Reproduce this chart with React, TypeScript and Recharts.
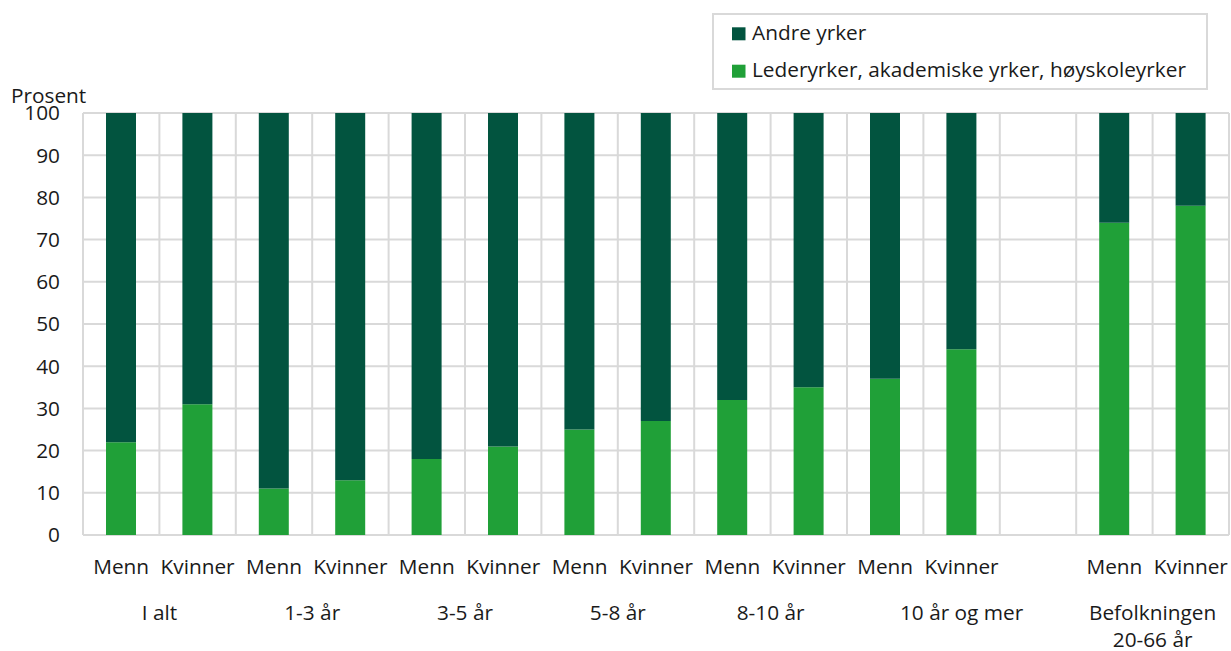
import React from 'react';
import { BarChart, Bar, XAxis, YAxis, CartesianGrid, Legend } from 'recharts';

const categories = ['Menn', 'Kvinner', 'Menn', 'Kvinner', 'Menn', 'Kvinner', 'Menn', 'Kvinner', 'Menn', 'Kvinner', 'Menn', 'Kvinner', '', 'Menn', 'Kvinner'];
const groupLabels = [['I alt'], ['1-3 år'], ['3-5 år'], ['5-8 år'], ['8-10 år'], ['10 år og mer'], ['Befolkningen', '20-66 år']];
const groupSpans = [2, 2, 2, 2, 2, 3, 2];
const lederyrker = [22, 31, 11, 13, 18, 21, 25, 27, 32, 35, 37, 44, null, 74, 78];
const andreYrker = [78, 69, 89, 87, 82, 79, 75, 73, 68, 65, 63, 56, null, 26, 22];
const yTicks = [0, 10, 20, 30, 40, 50, 60, 70, 80, 90, 100];

const seriesNames = { leder: 'Lederyrker, akademiske yrker, høyskoleyrker', andre: 'Andre yrker' };
const legendOrder = ['andre', 'leder'];
const COLOR_LIGHT = '#20a038';
const COLOR_DARK = '#02543f';
const GRID = '#d9d9d9';
const TEXT = '#1a1a1a';
const FONT = "'Open Sans', 'Noto Sans', sans-serif";
const FS = 20.8;

const data = categories.map((sex, i) => ({ sex, leder: lederyrker[i], andre: andreYrker[i] }));

const groupStarts: number[] = [];
{
  let acc = 0;
  for (const s of groupSpans) {
    groupStarts.push(acc);
    acc += s;
  }
}

const XTick = (props: any) => {
  const { x, y, payload, index, width, visibleTicksCount } = props;
  const i = typeof index === 'number' ? index : payload.index;
  const band = payload && payload.offset ? payload.offset * 2 : width / visibleTicksCount;
  const g = groupStarts.indexOf(i);
  return (
    <g>
      <text x={x} y={y + 39} textAnchor="middle" fill={TEXT} fontSize={FS} fontFamily={FONT}>
        {payload.value}
      </text>
      {g >= 0 &&
        groupLabels[g].map((line, k) => (
          <text
            key={k}
            x={x + ((groupSpans[g] - 1) * band) / 2}
            y={y + 85 + k * 26.5}
            textAnchor="middle"
            fill={TEXT}
            fontSize={FS}
            fontFamily={FONT}
          >
            {line}
          </text>
        ))}
    </g>
  );
};

const LegendBox = (props: any) => {
  const items = [...(props.payload || [])].sort(
    (a: any, b: any) => legendOrder.indexOf(a.dataKey) - legendOrder.indexOf(b.dataKey)
  );
  return (
    <svg width={496} height={77} style={{ display: 'block' }}>
      <rect x={1} y={1} width={494} height={75} fill="#fff" stroke={GRID} strokeWidth={2} />
      {items.map((it: any, k: number) => (
        <g key={k}>
          <rect x={20} y={14.3 + k * 37.4} width={13.5} height={13} fill={it.color} />
          <text x={40} y={26.5 + k * 37.4} fill={TEXT} fontSize={FS} fontFamily={FONT}>
            {it.value}
          </text>
        </g>
      ))}
    </svg>
  );
};

const ProsentLabel = (props: any) => {
  const vb = props.viewBox || { x: 0, y: 113 };
  return (
    <text x={vb.x + 11} y={vb.y - 10.5} fill={TEXT} fontSize={FS} fontFamily={FONT}>
      Prosent
    </text>
  );
};

const vGen = (args: any) => {
  const { offset, xAxis } = args || {};
  const left = offset && offset.left != null ? offset.left : xAxis.x;
  const w = offset && offset.width != null ? offset.width : xAxis.width;
  const n = data.length;
  return Array.from({ length: n + 1 }, (_, i) => left + (i * w) / n);
};

export default function App() {
  return (
    <div style={{ position: 'absolute', left: 0, top: 0, background: '#fff' }}>
      <BarChart
        width={1231}
        height={651}
        data={data}
        margin={{ top: 113, right: 2, bottom: 0, left: 0 }}
        style={{ fontFamily: FONT }}
      >
        <CartesianGrid stroke={GRID} strokeWidth={2} verticalCoordinatesGenerator={vGen} />
        <XAxis
          dataKey="sex"
          interval={0}
          height={116}
          tickLine={false}
          axisLine={false}
          tickSize={0}
          tickMargin={0}
          tick={<XTick />}
        />
        <YAxis
          width={83}
          domain={[0, 100]}
          ticks={yTicks}
          interval={0}
          tickLine={false}
          axisLine={false}
          tickSize={0}
          tickMargin={23}
          tick={{ fill: TEXT, fontSize: FS, fontFamily: FONT }}
          label={<ProsentLabel />}
        />
        <Legend
          layout="vertical"
          align="center"
          verticalAlign="middle"
          content={<LegendBox />}
          wrapperStyle={{ left: 712, top: 13, width: 496, height: 77 }}
        />
        <Bar dataKey="leder" name={seriesNames.leder} stackId="s" fill={COLOR_LIGHT} barSize={30} isAnimationActive={false} />
        <Bar dataKey="andre" name={seriesNames.andre} stackId="s" fill={COLOR_DARK} barSize={30} isAnimationActive={false} />
      </BarChart>
    </div>
  );
}
